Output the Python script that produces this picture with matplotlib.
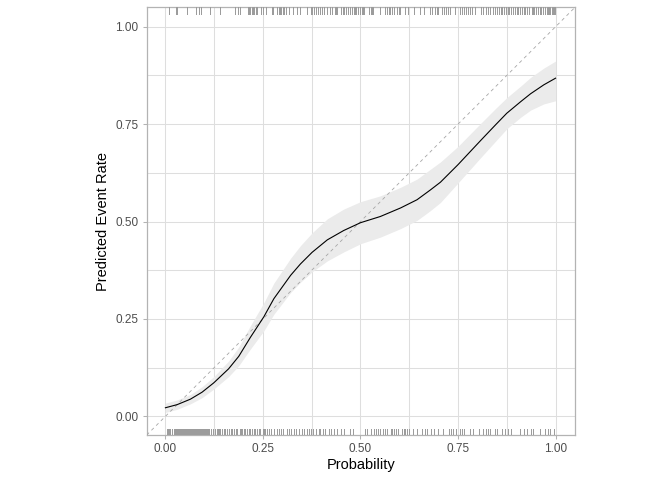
import numpy as np
import matplotlib
matplotlib.use("Agg")
import matplotlib.pyplot as plt
import matplotlib.transforms as mtransforms

plt.rcParams['font.family'] = ['Liberation Sans', 'DejaVu Sans']

# calibration curve (smoothed)
prob = [0.0, 0.030, 0.064, 0.094, 0.124, 0.162, 0.188, 0.218, 0.252, 0.278,
        0.321, 0.346, 0.376, 0.415, 0.457, 0.5, 0.551, 0.603, 0.645, 0.679,
        0.705, 0.75, 0.808, 0.846, 0.875, 0.911, 0.936, 0.970, 1.0]
rate = [0.022, 0.030, 0.044, 0.062, 0.086, 0.122, 0.154, 0.203, 0.255, 0.302,
        0.362, 0.391, 0.421, 0.453, 0.477, 0.497, 0.513, 0.535, 0.556, 0.581,
        0.601, 0.646, 0.708, 0.748, 0.778, 0.808, 0.828, 0.851, 0.868]
rate_lo = [0.010, 0.018, 0.032, 0.048, 0.070, 0.102, 0.130, 0.173, 0.219, 0.262,
           0.318, 0.344, 0.371, 0.399, 0.422, 0.443, 0.460, 0.482, 0.503, 0.528,
           0.549, 0.599, 0.664, 0.706, 0.738, 0.768, 0.786, 0.802, 0.810]
rate_hi = [0.034, 0.042, 0.056, 0.076, 0.102, 0.142, 0.178, 0.233, 0.291, 0.342,
           0.406, 0.438, 0.471, 0.507, 0.532, 0.551, 0.566, 0.588, 0.609, 0.634,
           0.653, 0.693, 0.752, 0.790, 0.818, 0.848, 0.870, 0.894, 0.912]

# observed probabilities for events (top rug) and non-events (bottom rug)
events = [0.009, 0.026, 0.030, 0.056, 0.079, 0.085, 0.091, 0.114, 0.141, 0.179,
          0.186, 0.192, 0.211, 0.214, 0.216, 0.221, 0.224, 0.226, 0.231, 0.235,
          0.244, 0.250, 0.259, 0.272, 0.276, 0.286, 0.291, 0.294, 0.296, 0.301,
          0.305, 0.308, 0.316, 0.327, 0.338, 0.346, 0.362, 0.372, 0.375, 0.377,
          0.382, 0.387, 0.390, 0.392, 0.397, 0.402, 0.406, 0.415, 0.423, 0.428,
          0.434, 0.437, 0.440, 0.449, 0.454, 0.457, 0.459, 0.464, 0.469, 0.472,
          0.474, 0.479, 0.484, 0.487, 0.489, 0.494, 0.498, 0.503, 0.506, 0.508,
          0.521, 0.526, 0.530, 0.533, 0.549, 0.563, 0.567, 0.572, 0.576, 0.580,
          0.585, 0.593, 0.598, 0.602, 0.615, 0.623, 0.636, 0.653, 0.662, 0.679,
          0.684, 0.690, 0.695, 0.700, 0.709, 0.714, 0.719, 0.724, 0.730, 0.743,
          0.756, 0.761, 0.766, 0.771, 0.776, 0.781, 0.785, 0.794,
          0.808, 0.810, 0.813, 0.815, 0.821, 0.823, 0.826, 0.828, 0.831, 0.833,
          0.839, 0.841, 0.844, 0.849, 0.851, 0.854, 0.856, 0.859, 0.862, 0.867,
          0.872, 0.874, 0.877, 0.880, 0.882, 0.885, 0.887, 0.890, 0.895, 0.897,
          0.900, 0.903, 0.905, 0.908, 0.910, 0.913, 0.915, 0.918, 0.921, 0.923,
          0.926, 0.928, 0.931, 0.933, 0.939, 0.941, 0.944, 0.946, 0.951, 0.954,
          0.956, 0.959, 0.962, 0.964, 0.969, 0.972, 0.974, 0.977, 0.980, 0.982,
          0.985, 0.987, 0.990, 0.993, 0.996, 0.999]
non_events = [0.003, 0.006, 0.008, 0.011, 0.013, 0.016, 0.018, 0.021, 0.024, 0.026,
              0.029, 0.031, 0.034, 0.037, 0.039, 0.042, 0.044, 0.047, 0.050, 0.052,
              0.055, 0.057, 0.060, 0.063, 0.065, 0.068, 0.070, 0.073, 0.076, 0.078,
              0.081, 0.083, 0.086, 0.089, 0.091, 0.094, 0.096, 0.099, 0.102, 0.104,
              0.107, 0.110, 0.112, 0.118, 0.121, 0.126, 0.131, 0.134, 0.138, 0.141,
              0.145, 0.150, 0.154, 0.158, 0.163, 0.167, 0.171, 0.176, 0.180, 0.184,
              0.190, 0.193, 0.196, 0.202, 0.205, 0.209, 0.213, 0.217, 0.222, 0.226,
              0.230, 0.236, 0.239, 0.243, 0.249, 0.253, 0.256, 0.260, 0.265, 0.271,
              0.278, 0.285, 0.291, 0.295,
              0.302, 0.312, 0.316, 0.322, 0.329, 0.336, 0.342, 0.350, 0.355, 0.362,
              0.368, 0.374, 0.379, 0.385, 0.393, 0.397, 0.404, 0.410, 0.419, 0.425,
              0.432, 0.440, 0.449, 0.459, 0.474, 0.481, 0.511, 0.517, 0.528, 0.534,
              0.540, 0.545, 0.551, 0.557, 0.562, 0.568, 0.577, 0.581, 0.585, 0.590,
              0.597, 0.607, 0.611, 0.615, 0.620, 0.624, 0.634, 0.644, 0.658, 0.665,
              0.671, 0.682, 0.688, 0.699, 0.711, 0.726, 0.731, 0.737, 0.744, 0.754,
              0.761, 0.765, 0.782, 0.788, 0.805, 0.814, 0.822, 0.827, 0.833, 0.844,
              0.850, 0.863, 0.870, 0.879, 0.887, 0.910, 0.919, 0.927, 0.936, 0.942,
              0.959, 0.974, 0.981, 0.987, 0.996]

ticks = [0.0, 0.25, 0.5, 0.75, 1.0]
tick_labels = ['0.00', '0.25', '0.50', '0.75', '1.00']

fig = plt.figure(figsize=(6.72, 4.8), dpi=100)
ax = fig.add_axes([0.2183, 0.0937, 0.6374, 0.8911])

ax.set_xlim(-0.048, 1.05)
ax.set_ylim(-0.048, 1.05)

# grid like theme_light
ax.set_xticks(ticks)
ax.set_yticks(ticks)
ax.set_xticks([0.125, 0.375, 0.625, 0.875], minor=True)
ax.set_yticks([0.125, 0.375, 0.625, 0.875], minor=True)
ax.grid(which='both', color='#dedede', linewidth=0.75)
ax.set_axisbelow(True)
ax.tick_params(which='minor', length=0)
ax.tick_params(which='major', length=3, width=0.75, color='#b3b3b3',
               labelsize=8.5, labelcolor='#4d4d4d', pad=3)
ax.set_xticklabels(tick_labels)
ax.set_yticklabels(tick_labels)
for sp in ax.spines.values():
    sp.set_color('#b3b3b3')
    sp.set_linewidth(0.9)

# confidence band and curve
ax.fill_between(prob, rate_lo, rate_hi, color='#ebebeb', linewidth=0, zorder=2)
ax.axline((0, 0), slope=1, color='#a6a6a6', linestyle=(0, (4, 4)),
          linewidth=0.6, zorder=3)
ax.plot(prob, rate, color='black', linewidth=0.8, zorder=4)

# rugs
trans = mtransforms.blended_transform_factory(ax.transData, ax.transAxes)
ax.vlines(events, 0.985, 1.0, transform=trans, color='#9c9c9c',
          linewidth=0.72, antialiased=False, zorder=5)
ax.vlines(non_events, 0.0, 0.015, transform=trans, color='#9c9c9c',
          linewidth=0.72, antialiased=False, zorder=5)

ax.set_xlabel('Probability', fontsize=10.5, labelpad=2)
ax.set_ylabel('Predicted Event Rate', fontsize=10.5, labelpad=4)

fig.savefig('out.png', dpi=100)
